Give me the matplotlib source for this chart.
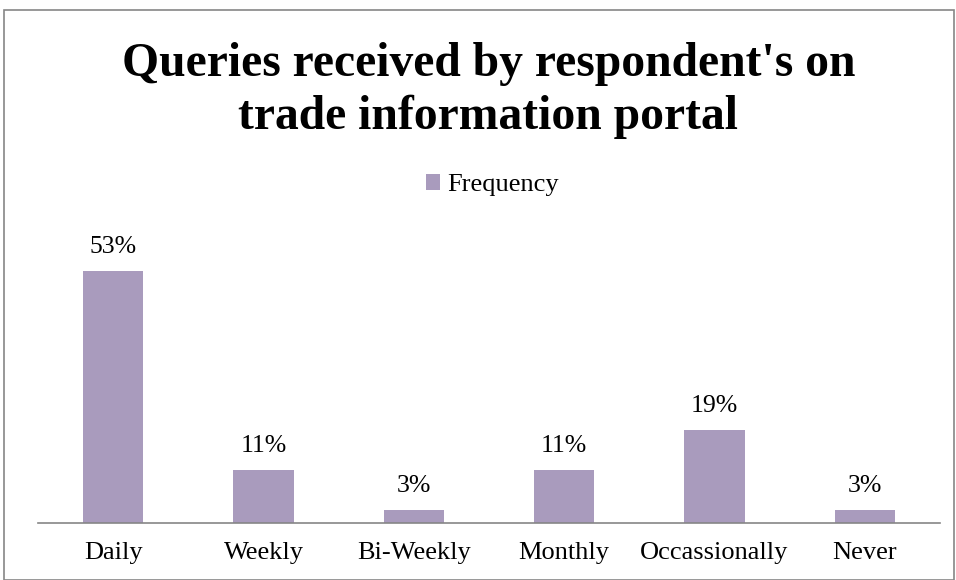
import matplotlib.pyplot as plt
from matplotlib.patches import Rectangle

categories = ['Daily', 'Weekly', 'Bi-Weekly', 'Monthly', 'Occassionally', 'Never']
frequency = [52.8, 11.1, 2.8, 11.1, 19.4, 2.8]

plt.rcParams['font.family'] = ['Liberation Serif', 'DejaVu Serif']

fig = plt.figure(figsize=(9.56, 5.8), dpi=100)
ax = fig.add_axes([38 / 956, 57 / 580, 902 / 956, 286.4 / 580])

x = range(len(categories))
bars = ax.bar(x, frequency, width=0.4, color='#A99BBD', label='Frequency')

# value labels above bars
for xi, v in zip(x, frequency):
    ax.annotate(f'{v:.0f}%', (xi, v), xytext=(0, 13), textcoords='offset points',
                ha='center', va='baseline', fontsize=18.5, annotation_clip=False)

ax.set_xlim(-0.5, len(categories) - 0.5)
ax.set_ylim(0, 60)
ax.set_xticks(list(x))
ax.set_xticklabels(categories, fontsize=19)
ax.tick_params(axis='x', length=0, pad=14)
ax.set_yticks([])
for side in ['left', 'right', 'top']:
    ax.spines[side].set_visible(False)
ax.spines['bottom'].set_color('#868686')
ax.spines['bottom'].set_linewidth(1.2)

# title, two lines
title_x = 488.5 / 956
fig.text(title_x, 1 - 76 / 580, "Queries received by respondent's on",
         ha='center', va='baseline', fontsize=34.3, fontweight='bold')
fig.text(title_x, 1 - 129 / 580, "trade information portal",
         ha='center', va='baseline', fontsize=34.3, fontweight='bold')

fig.legend(handles=[bars], labels=['Frequency'], loc='center', bbox_to_anchor=(492 / 956, 1 - 185 / 580),
           frameon=False, fontsize=19, handlelength=0.55, handleheight=0.55, handletextpad=0.25)

fig.patches.append(Rectangle((4 / 956, 0), 950 / 956, 1 - 10 / 580, transform=fig.transFigure,
                             fill=False, edgecolor='#868686', linewidth=1.2))

fig.savefig('out.png', dpi=100)
